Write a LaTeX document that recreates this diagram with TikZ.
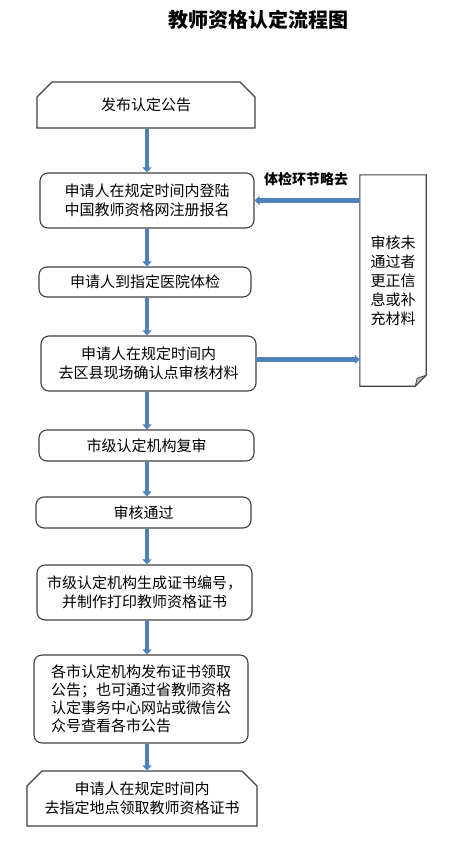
\documentclass[tikz,border=0pt]{standalone}
\usepackage{fontspec}
\setmainfont{Noto Sans CJK SC}
\usetikzlibrary{arrows.meta,shapes.misc}

\definecolor{flowblue}{HTML}{4F81BD}
\definecolor{boxline}{HTML}{3F3F3F}

\begin{document}
\begin{tikzpicture}[%
        x=1pt,
        y=-1pt,
        inner sep=3pt,
        boxtext/.style={%
            draw=boxline,
            line width=1.1pt,
            align=center,
            node font=\fontsize{15}{19}\selectfont,
        },
        stepbox/.style={%
            boxtext,
            rounded corners=8pt,
        },
        cutbox/.style={%
            boxtext,
            chamfered rectangle,
            chamfered rectangle corners={north west,north east},
            chamfered rectangle xsep=7pt,
            chamfered rectangle ysep=8pt,
        },
        flow/.style={%
            draw=flowblue,
            line width=4.5pt,
            -{Triangle[width=9pt,length=5pt]},
        },
    ]

    \useasboundingbox (0,0) rectangle (453,849);

    \node (title) at (258,20) [node font=\fontsize{20}{24}\selectfont\bfseries] {教师资格认定流程图};

    \node (notice_box) at (146,105) [cutbox, minimum width=218pt, minimum height=46pt] {发布认定公告};

    \node (register_box) at (147,200.5) [stepbox, minimum width=214pt, minimum height=55pt] {申请人在规定时间内登陆\\中国教师资格网注册报名};

    \node (exam_box) at (145,282) [stepbox, minimum width=212pt, minimum height=30pt] {申请人到指定医院体检};

    \node (check_box) at (148.5,363.5) [stepbox, minimum width=215pt, minimum height=55pt] {申请人在规定时间内\\去区县现场确认点审核材料};

    \node (review_box) at (146.5,445.5) [stepbox, minimum width=215pt, minimum height=31pt] {市级认定机构复审};

    \node (pass_box) at (143.5,512.5) [stepbox, minimum width=215pt, minimum height=31pt] {审核通过};

    \node (print_box) at (144.5,592.5) [stepbox, minimum width=215pt, minimum height=55pt] {市级认定机构生成证书编号，\\并制作打印教师资格证书};

    \node (announce_box) at (141,699) [stepbox, align=left, node font=\fontsize{15}{18}\selectfont, minimum width=214pt, minimum height=88pt] {各市认定机构发布证书领取\\公告；也可通过省教师资格\\认定事务中心网站或微信公\\众号查看各市公告};

    \node (collect_box) at (142,798.5) [cutbox, minimum width=230pt, minimum height=55pt] {申请人在规定时间内\\去指定地点领取教师资格证书};

    % side box with folded corner
    \node (fix_box) at (393,280.5) [minimum width=66pt, minimum height=211pt, align=center, node font=\fontsize{15}{19}\selectfont] {审核未\\通过者\\更正信\\息或补\\充材料};
    \draw [boxline, line width=1.1pt] (fix_box.north west) -- (fix_box.north east) -- ([yshift=11pt]fix_box.south east) -- ([xshift=-11pt]fix_box.south east) -- (fix_box.south west) -- cycle;
    \filldraw [fill=gray!55, draw=boxline, line width=0.8pt] ([xshift=-11pt]fix_box.south east) -- ([yshift=11pt]fix_box.south east) -- ([xshift=-9pt,yshift=8pt]fix_box.south east) -- cycle;

    \node (skip_label) at (306,179) [node font=\fontsize{14}{16}\selectfont\bfseries] {体检环节略去};

    % all down arrows share one vertical line
    \coordinate (spine) at (147,0);
    \foreach \from/\to in {notice_box/register_box, register_box/exam_box, exam_box/check_box, check_box/review_box, review_box/pass_box, pass_box/print_box, print_box/announce_box, announce_box/collect_box} {%
        \draw [flow] (\from.south -| spine) -- (\to.north -| spine);
    }

    \draw [flow] (fix_box.west |- register_box.east) -- (register_box.east);
    \draw [flow] ([yshift=4pt]check_box.east) -- ([yshift=4pt]check_box.east -| fix_box.west);
\end{tikzpicture}
\end{document}
